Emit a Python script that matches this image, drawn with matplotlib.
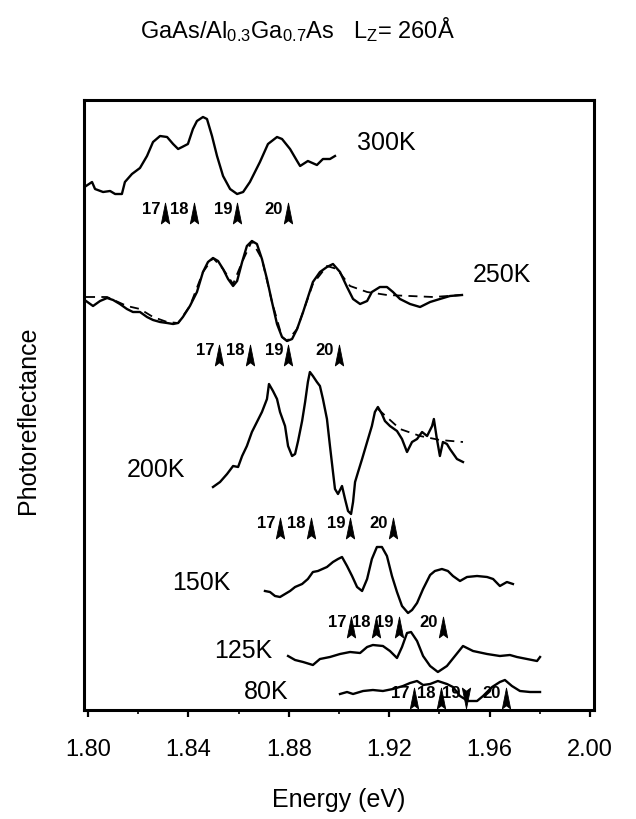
"""Photoreflectance spectra of a GaAs/AlGaAs quantum well at several temperatures."""
import matplotlib
import numpy as np

matplotlib.use("Agg")
from matplotlib import pyplot as plt
from matplotlib.path import Path

plt.rcParams["font.family"] = ["Liberation Sans", "DejaVu Sans"]
plt.rcParams["mathtext.fontset"] = "custom"
plt.rcParams["mathtext.rm"] = "Liberation Sans"
plt.rcParams["mathtext.it"] = "Liberation Sans"

# energies (eV) and offset photoreflectance signal (arbitrary units) per temperature
E_300K = [1.7992, 1.8016, 1.8028, 1.8060, 1.8088, 1.8108, 1.8135, 1.8147, 1.8175, 1.8207,
          1.8235, 1.8259, 1.8287, 1.8315, 1.8339, 1.8359, 1.8375, 1.8398, 1.8418, 1.8434,
          1.8458, 1.8474, 1.8494, 1.8514, 1.8538, 1.8566, 1.8594, 1.8618, 1.8645, 1.8685,
          1.8717, 1.8753, 1.8773, 1.8805, 1.8833, 1.8845, 1.8876, 1.8912, 1.8936, 1.8964, 1.8984]
PR_300K = [524, 528, 521, 518, 519, 516, 516, 528, 536, 542,
           554, 568, 574, 573, 566, 561, 563, 566, 581, 589,
           593, 591, 574, 554, 534, 521, 516, 518, 528, 548,
           566, 573, 571, 561, 549, 544, 549, 545, 551, 551, 554]

E_250K = [1.7992, 1.8020, 1.8048, 1.8076, 1.8100, 1.8127, 1.8155, 1.8179, 1.8207, 1.8235,
          1.8259, 1.8287, 1.8315, 1.8339, 1.8359, 1.8378, 1.8406, 1.8434, 1.8458, 1.8478,
          1.8498, 1.8518, 1.8538, 1.8558, 1.8578, 1.8594, 1.8614, 1.8633, 1.8653, 1.8673,
          1.8693, 1.8713, 1.8733, 1.8753, 1.8773, 1.8793, 1.8813, 1.8833, 1.8857, 1.8896,
          1.8924, 1.8952, 1.8976, 1.9004, 1.9032, 1.9056, 1.9084, 1.9112, 1.9131, 1.9163,
          1.9191, 1.9215, 1.9243, 1.9283, 1.9323, 1.9363, 1.9402, 1.9442, 1.9490]
PR_250K = [409, 404, 409, 412, 410, 406, 401, 398, 398, 393,
           390, 388, 387, 386, 387, 393, 404, 418, 438, 448,
           452, 449, 441, 431, 424, 429, 448, 464, 469, 466,
           451, 431, 408, 386, 373, 369, 371, 381, 398, 428,
           438, 443, 446, 438, 423, 411, 406, 409, 418, 423,
           423, 418, 411, 406, 403, 408, 411, 414, 415]
E_250K_FIT = [1.7992, 1.8076, 1.8155, 1.8207, 1.8259, 1.8315, 1.8359, 1.8406, 1.8458, 1.8498,
              1.8538, 1.8578, 1.8614, 1.8653, 1.8693, 1.8733, 1.8773, 1.8793, 1.8833, 1.8896,
              1.8952, 1.8992, 1.9044, 1.9112, 1.9191, 1.9283, 1.9375, 1.9490]
PR_250K_FIT = [413, 413, 404, 401, 393, 388, 387, 404, 438, 452,
               441, 426, 448, 469, 451, 408, 373, 369, 381, 426,
               444, 441, 424, 418, 415, 414, 413, 415]

E_200K = [1.8498, 1.8526, 1.8554, 1.8578, 1.8598, 1.8614, 1.8633, 1.8653, 1.8673, 1.8693,
          1.8713, 1.8721, 1.8737, 1.8753, 1.8765, 1.8785, 1.8797, 1.8813, 1.8825, 1.8837,
          1.8853, 1.8865, 1.8876, 1.8884, 1.8896, 1.8912, 1.8924, 1.8936, 1.8952, 1.8964,
          1.8976, 1.8984, 1.8996, 1.9012, 1.9024, 1.9036, 1.9048, 1.9056, 1.9064, 1.9076,
          1.9092, 1.9112, 1.9131, 1.9143, 1.9155, 1.9171, 1.9183, 1.9203, 1.9231, 1.9251,
          1.9271, 1.9291, 1.9311, 1.9331, 1.9351, 1.9371, 1.9378, 1.9390, 1.9402, 1.9414,
          1.9430, 1.9442, 1.9470, 1.9494]
PR_200K = [223, 228, 236, 244, 243, 254, 264, 278, 288, 298,
           311, 326, 319, 311, 298, 284, 264, 254, 256, 269,
           289, 308, 328, 338, 334, 328, 324, 311, 291, 264,
           238, 221, 216, 224, 211, 199, 196, 208, 228, 238,
           251, 268, 284, 298, 303, 296, 289, 284, 279, 271,
           258, 268, 271, 278, 274, 284, 291, 271, 254, 268,
           266, 261, 251, 248]
E_200K_FIT = [1.9155, 1.9243, 1.9323, 1.9402, 1.9494]
PR_200K_FIT = [301, 281, 274, 270, 268]

E_150K = [1.8705, 1.8725, 1.8745, 1.8765, 1.8785, 1.8805, 1.8825, 1.8853, 1.8876, 1.8896,
          1.8916, 1.8952, 1.8976, 1.8996, 1.9012, 1.9032, 1.9052, 1.9072, 1.9092, 1.9112,
          1.9131, 1.9151, 1.9171, 1.9191, 1.9211, 1.9231, 1.9251, 1.9275, 1.9291, 1.9311,
          1.9335, 1.9363, 1.9382, 1.9410, 1.9434, 1.9454, 1.9482, 1.9510, 1.9550, 1.9590,
          1.9614, 1.9641, 1.9669, 1.9693]
PR_150K = [119, 118, 114, 113, 116, 119, 123, 126, 131, 138,
           139, 143, 148, 151, 153, 144, 134, 123, 119, 131,
           151, 163, 163, 154, 134, 118, 104, 97, 100, 107,
           121, 135, 139, 141, 139, 134, 129, 133, 134, 133,
           131, 124, 128, 126]

E_125K = [1.8797, 1.8825, 1.8857, 1.8896, 1.8924, 1.8964, 1.9004, 1.9044, 1.9084, 1.9112,
          1.9135, 1.9175, 1.9203, 1.9231, 1.9251, 1.9271, 1.9287, 1.9311, 1.9335, 1.9363,
          1.9394, 1.9430, 1.9462, 1.9494, 1.9534, 1.9590, 1.9641, 1.9681, 1.9709, 1.9749,
          1.9789, 1.9801]
PR_125K = [54, 50, 48, 45, 51, 53, 56, 58, 57, 63,
           65, 64, 59, 52, 63, 77, 78, 69, 54, 44,
           38, 44, 54, 64, 59, 56, 54, 55, 53, 51,
           49, 53]

E_80K = [1.9004, 1.9032, 1.9056, 1.9096, 1.9135, 1.9175, 1.9215, 1.9255, 1.9283, 1.9311,
         1.9335, 1.9363, 1.9394, 1.9430, 1.9454, 1.9482, 1.9514, 1.9550, 1.9574, 1.9610,
         1.9641, 1.9661, 1.9689, 1.9721, 1.9761, 1.9801]
PR_80K = [16, 18, 16, 19, 20, 19, 21, 24, 27, 29,
          25, 26, 29, 26, 23, 14, 9, 9, 14, 23,
          28, 30, 24, 19, 18, 18]

# transition energies (eV) marked by arrows, labels 17-20
TRANSITION_LABELS = ["17", "18", "19", "20"]
TRANSITIONS_300K = [1.8307, 1.8422, 1.8594, 1.8797]
TRANSITIONS_250K = [1.8522, 1.8645, 1.8797, 1.9000]
TRANSITIONS_200K = [1.8765, 1.8888, 1.9044, 1.9215]
TRANSITIONS_150K = [1.9048, 1.9147, 1.9239, 1.9414]
TRANSITIONS_80K = [1.9299, 1.9406, 1.9506, 1.9665]

TEMPERATURES = ["300K", "250K", "200K", "150K", "125K", "80K"]

UP_ARROW = Path([(0, 1), (0.4, -1), (0, -0.7), (-0.4, -1), (0, 1)],
                [Path.MOVETO, Path.LINETO, Path.LINETO, Path.LINETO, Path.CLOSEPOLY])
DOWN_ARROW = Path([(0, -1), (0.4, 1), (0, 0.7), (-0.4, 1), (0, -1)],
                  [Path.MOVETO, Path.LINETO, Path.LINETO, Path.LINETO, Path.CLOSEPOLY])


def _arrows(ax, energies, level, down=()):
    for label, energy in zip(TRANSITION_LABELS, energies):
        marker = DOWN_ARROW if label in down else UP_ARROW
        ax.plot([energy], [level], linestyle="none", marker=marker, markersize=15,
                color="black", markeredgewidth=0.6)
        ax.annotate(label, (energy, level), xytext=(-5, 5), textcoords="offset pixels",
                    ha="right", va="center", fontsize=12, fontweight="bold")


fig = plt.figure(figsize=(6.36, 8.2), dpi=100)
ax = fig.add_axes([84 / 636, 1 - 711 / 820, 510 / 636, 610 / 820])

line_kw = dict(color="black", linewidth=1.7, solid_joinstyle="round")
dash_kw = dict(color="black", linewidth=1.3, linestyle=(0, (5, 3.5)))
ax.plot(E_300K, PR_300K, **line_kw)
ax.plot(E_250K, PR_250K, **line_kw)
ax.plot(E_250K_FIT, PR_250K_FIT, **dash_kw)
ax.plot(E_200K, PR_200K, **line_kw)
ax.plot(E_200K_FIT, PR_200K_FIT, **dash_kw)
ax.plot(E_150K, PR_150K, **line_kw)
ax.plot(E_125K, PR_125K, **line_kw)
ax.plot(E_80K, PR_80K, **line_kw)

_arrows(ax, TRANSITIONS_300K, 497)
_arrows(ax, TRANSITIONS_250K, 355)
_arrows(ax, TRANSITIONS_200K, 182)
_arrows(ax, TRANSITIONS_150K, 83)
_arrows(ax, TRANSITIONS_80K, 12, down=("19",))

label_kw = dict(fontsize=18, va="center")
ax.text(1.9072, 568, TEMPERATURES[0], ha="left", **label_kw)
ax.text(1.9534, 436, TEMPERATURES[1], ha="left", **label_kw)
ax.text(1.8386, 241, TEMPERATURES[2], ha="right", **label_kw)
ax.text(1.8566, 128, TEMPERATURES[3], ha="right", **label_kw)
ax.text(1.8733, 60, TEMPERATURES[4], ha="right", **label_kw)
ax.text(1.8797, 19, TEMPERATURES[5], ha="right", **label_kw)

ax.set_xlim(1.7984, 2.0016)
ax.set_ylim(0, 610)
ax.set_xticks(np.arange(1.80, 2.001, 0.04))
ax.set_xticks(np.arange(1.82, 2.0, 0.04), minor=True)
ax.set_xticklabels([f"{t:.2f}" for t in np.arange(1.80, 2.001, 0.04)])
ax.set_yticks([])
ax.tick_params(axis="x", which="major", direction="out", length=5, width=1.6,
               labelsize=17, pad=15)
ax.tick_params(axis="x", which="minor", direction="out", length=3, width=1.2)
for spine in ax.spines.values():
    spine.set_linewidth(2.2)

fig.text(28 / 636, 1 - 420 / 820, "Photoreflectance", rotation=90, ha="center",
         va="center", fontsize=18)
fig.text(339 / 636, 1 - 800 / 820, "Energy (eV)", ha="center", va="center", fontsize=18)
fig.text(140 / 636, 1 - 38 / 820,
         r"GaAs/Al$_{\rm 0.3}$Ga$_{\rm 0.7}$As   L$_{\rm Z}$= 260Å",
         ha="left", va="baseline", fontsize=17)

fig.savefig("out.png", dpi=100)
plt.close(fig)
